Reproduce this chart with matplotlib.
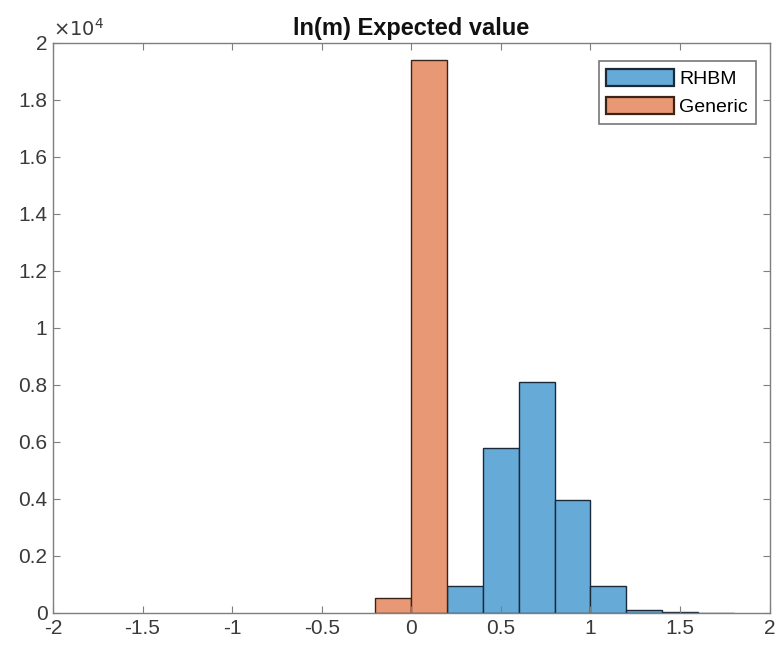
import numpy as np
import matplotlib
matplotlib.use('Agg')
import matplotlib.pyplot as plt

plt.rcParams['font.family'] = ['Liberation Sans', 'DejaVu Sans']

# histogram bins (left edges) and counts
rhbm_edges = [0.2, 0.4, 0.6, 0.8, 1.0, 1.2, 1.4, 1.6]
rhbm_counts = [940, 5780, 8100, 3980, 940, 120, 30, 8]
generic_edges = [-0.2, 0.0]
generic_counts = [540, 19400]
bin_width = 0.2

xticks = [-2, -1.5, -1, -0.5, 0, 0.5, 1, 1.5, 2]
yticks = [0, 2000, 4000, 6000, 8000, 10000, 12000, 14000, 16000, 18000, 20000]
ytick_labels = ['0', '0.2', '0.4', '0.6', '0.8', '1', '1.2', '1.4', '1.6', '1.8', '2']

blue = '#66aad7'
orange = '#e89875'
grey = '#3a3a3a'
spine = '#7f7f7f'

fig = plt.figure(figsize=(7.79, 6.5), dpi=100)
ax = fig.add_axes([0.068, 0.057, 0.920, 0.877])

ax.bar(rhbm_edges, rhbm_counts, width=bin_width, align='edge',
       color=blue, edgecolor='#1a2a3a', linewidth=1.0, label='RHBM')
ax.bar(generic_edges, generic_counts, width=bin_width, align='edge',
       color=orange, edgecolor='#3a2418', linewidth=1.0, label='Generic')

ax.set_xlim(-2, 2)
ax.set_ylim(0, 20000)
ax.set_xticks(xticks)
ax.set_xticklabels([f'{t:g}' for t in xticks])
ax.set_yticks(yticks)
ax.set_yticklabels(ytick_labels)

ax.tick_params(direction='in', top=True, right=True, length=5, width=0.8,
               colors=spine, labelcolor=grey, labelsize=15, pad=4)
for s in ax.spines.values():
    s.set_color(spine)
    s.set_linewidth(1.0)

ax.text(0.0, 1.005, r'$\times10^{4}$', transform=ax.transAxes,
        fontsize=14, color=grey, ha='left', va='bottom')
ax.set_title('ln(m) Expected value', fontsize=17, fontweight='bold',
             color='#111111', pad=6)

leg = ax.legend(loc='upper right', bbox_to_anchor=(0.9805, 0.968),
                fontsize=14, frameon=True, fancybox=False,
                edgecolor='#555555', borderpad=0.4, handlelength=3.5,
                handleheight=0.95, handletextpad=0.25, labelspacing=0.45,
                borderaxespad=0)
leg.get_frame().set_linewidth(1.2)
for h in leg.legend_handles:
    h.set_linewidth(1.6)

fig.savefig('out.png', dpi=100)
